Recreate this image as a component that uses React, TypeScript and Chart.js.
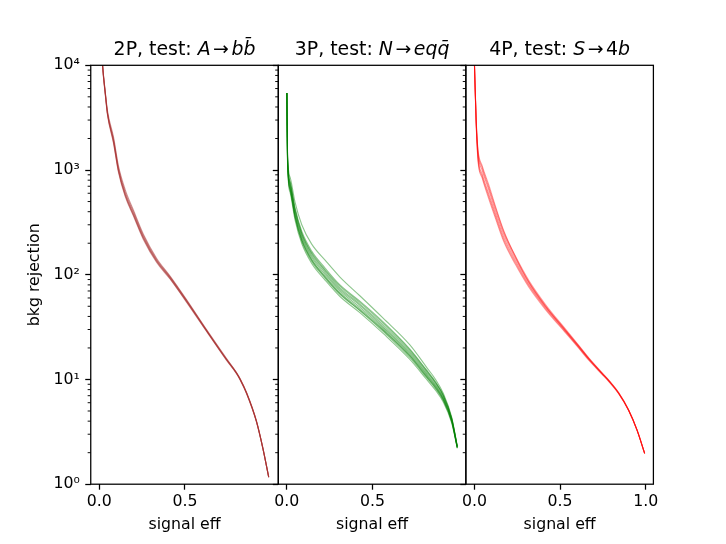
import React, { useEffect, useRef } from 'react';
import Chart from 'chart.js/auto';

// 2P panel: signal efficiency and background rejection of every training run
const effA = [0.012, 0.019, 0.035, 0.048, 0.083, 0.112, 0.151, 0.2, 0.258, 0.335, 0.413, 0.51, 0.616, 0.742, 0.8, 0.823, 0.86, 0.917, 0.955, 0.989];
const rejA = [
    [16000, 10000, 5370, 3460, 1900, 1000, 590, 380, 227, 136, 94, 56, 31, 15.6, 11.6, 10.0, 7.4, 4.0, 2.2, 1.17],
    [16000, 10200, 5550, 3650, 2060, 1090, 650, 410, 242, 143, 97, 57.5, 31.6, 15.9, 11.7, 10.1, 7.5, 4.05, 2.22, 1.18],
    [16000, 9800, 5200, 3320, 1800, 950, 560, 362, 216, 131, 91, 54.5, 30.4, 15.3, 11.4, 9.85, 7.3, 3.95, 2.18, 1.16],
    [16000, 10100, 5450, 3500, 1960, 1040, 615, 395, 234, 139, 95.5, 56.8, 31.3, 15.7, 11.65, 10.05, 7.45, 4.02, 2.21, 1.17],
    [16000, 9900, 5300, 3400, 1850, 975, 575, 370, 222, 134, 92.5, 55.2, 30.7, 15.45, 11.5, 9.9, 7.35, 3.98, 2.19, 1.165],
];

// 3P panel
const effB = [0, 0.004, 0.02, 0.048, 0.087, 0.145, 0.223, 0.31, 0.426, 0.562, 0.717, 0.814, 0.87, 0.913, 0.962, 0.995];
const rejB = [
    [5450, 1230, 680, 380, 227, 146, 101, 70, 49, 31, 17.5, 11.2, 8.6, 6.6, 4.1, 2.26],
    [5450, 1160, 630, 350, 208, 134, 93, 65, 45.5, 28.8, 16.3, 10.5, 8.1, 6.3, 3.95, 2.22],
    [5450, 1110, 600, 332, 198, 128, 89, 62, 43.5, 27.5, 15.6, 10.1, 7.8, 6.1, 3.85, 2.2],
    [5450, 1290, 725, 410, 245, 158, 109, 75, 52.5, 33.2, 18.6, 11.9, 9.1, 6.95, 4.22, 2.28],
    [5450, 1340, 770, 435, 260, 168, 116, 80, 56, 35.5, 19.6, 12.4, 9.4, 7.15, 4.3, 2.3],
    [5450, 1400, 840, 490, 300, 196, 138, 95, 63, 38.5, 21.5, 13.2, 9.9, 7.4, 4.4, 2.32],
    [5450, 1200, 655, 365, 217, 140, 97, 67.5, 47.2, 30, 17, 10.9, 8.4, 6.5, 4.05, 2.24],
    [5450, 1260, 700, 395, 236, 152, 105, 72.5, 51, 32, 18, 11.5, 8.8, 6.75, 4.15, 2.27],
    [5450, 1180, 645, 358, 214, 138, 95, 66, 46, 29.5, 16.8, 10.7, 8.25, 6.4, 4.0, 2.23],
    [5450, 1320, 750, 420, 250, 162, 112, 78, 54.5, 34.5, 19.2, 12.2, 9.25, 7.05, 4.25, 2.29],
];

// 4P panel
const effC = [0, 0.01, 0.021, 0.045, 0.084, 0.123, 0.172, 0.24, 0.318, 0.415, 0.532, 0.609, 0.669, 0.745, 0.787, 0.842, 0.9, 0.949, 0.994];
const rejC = [
    [10500, 2960, 1330, 920, 590, 382, 227, 136, 81, 49, 29, 20.5, 15.6, 11.4, 9.6, 7.4, 5.1, 3.3, 1.97],
    [10500, 3150, 1500, 1060, 680, 435, 255, 150, 88, 52, 30.2, 21.2, 16.0, 11.6, 9.75, 7.5, 5.15, 3.32, 1.98],
    [10500, 2800, 1220, 840, 530, 345, 206, 125, 76, 46.5, 27.9, 19.9, 15.2, 11.2, 9.45, 7.3, 5.05, 3.28, 1.96],
    [10500, 3080, 1430, 1000, 645, 410, 242, 143, 84.5, 50.5, 29.6, 20.9, 15.8, 11.5, 9.68, 7.45, 5.12, 3.31, 1.97],
    [10500, 2880, 1270, 875, 558, 362, 215, 130, 78.5, 47.8, 28.5, 20.2, 15.4, 11.3, 9.52, 7.35, 5.08, 3.29, 1.965],
    [10500, 3000, 1560, 1100, 720, 450, 262, 148, 85, 50, 29.3, 20.7, 15.7, 11.45, 9.64, 7.42, 5.1, 3.3, 1.97],
];

const xTicksInner = [0, 0.5];
const xTicksLast = [0, 0.5, 1.0];
const yTicks = [1, 10, 100, 1000, 10000];
const yTickLabels = ['10⁰', '10¹', '10²', '10³', '10⁴'];
const yMinor: number[] = [];
for (const d of [1, 10, 100, 1000]) for (let k = 2; k <= 9; k++) yMinor.push(k * d);

// title pieces: [text, italic]
const titleA: [string, boolean][] = [['2P, test: ', false], ['A', true], ['→', false], ['bb̄', true]];
const titleB: [string, boolean][] = [['3P, test: ', false], ['N', true], ['→', false], ['eqq̄', true]];
const titleC: [string, boolean][] = [['4P, test: ', false], ['S', true], ['→', false], ['4', false], ['b', true]];

const FONT = '"DejaVu Sans"';
Chart.defaults.font.family = FONT;
Chart.defaults.color = '#000';

interface PanelProps {
    eff: number[];
    runs: number[][];
    color: string;
    title: [string, boolean][];
    xTicks: number[];
    showY: boolean;
    left: number;
    width: number;
    axisW: number;
    padRight: number;
}

const Panel: React.FC<PanelProps> = (p) => {
    const ref = useRef<HTMLCanvasElement>(null);

    useEffect(() => {
        if (!ref.current) return;

        const frame = {
            id: 'frame',
            afterDraw(chart: any) {
                const { ctx, chartArea: a, scales } = chart;
                ctx.save();
                ctx.strokeStyle = '#000';
                ctx.lineWidth = 1.26;
                ctx.strokeRect(a.left, a.top, a.right - a.left, a.bottom - a.top);
                ctx.lineWidth = 0.95;
                ctx.beginPath();
                for (const v of yMinor) {
                    const y = scales.y.getPixelForValue(v);
                    ctx.moveTo(a.left - 3.1, y);
                    ctx.lineTo(a.left, y);
                }
                ctx.stroke();

                // title with italic math parts
                const size = 18.9;
                const gap = 2.5;
                ctx.fillStyle = '#000';
                ctx.textBaseline = 'alphabetic';
                ctx.textAlign = 'left';
                const fontOf = (it: boolean) => `${it ? 'italic ' : ''}${size}px ${FONT}`;
                let total = 0;
                for (const [t, it] of p.title) {
                    ctx.font = fontOf(it);
                    total += ctx.measureText(t).width + (t === '→' ? 2 * gap : 0);
                }
                let x = (a.left + a.right) / 2 - total / 2;
                for (const [t, it] of p.title) {
                    ctx.font = fontOf(it);
                    if (t === '→') x += gap;
                    ctx.fillText(t, x, 55.2);
                    x += ctx.measureText(t).width + (t === '→' ? gap : 0);
                }
                ctx.restore();
            },
        };

        const tickGrid = {
            drawOnChartArea: false,
            drawTicks: true,
            tickLength: 5.5,
            tickWidth: 1.26,
            tickColor: '#000',
        };

        const chartInstance = new Chart(ref.current, {
            type: 'line',
            data: {
                datasets: p.runs.map((run) => ({
                    data: run.map((v, i) => ({ x: p.eff[i], y: v })),
                    borderColor: p.color,
                    borderWidth: 1.1,
                    pointRadius: 0,
                    fill: false,
                    cubicInterpolationMode: 'monotone' as const,
                })),
            },
            options: {
                animation: false,
                responsive: false,
                events: [],
                layout: { padding: { left: 0, right: p.padRight, top: 65.3, bottom: 0 } },
                plugins: {
                    legend: { display: false },
                    tooltip: { enabled: false },
                    title: { display: false },
                },
                scales: {
                    x: {
                        type: 'linear',
                        min: -0.05,
                        max: 1.045,
                        afterBuildTicks: (s: any) => {
                            s.ticks = p.xTicks.map((v) => ({ value: v }));
                        },
                        afterFit: (s: any) => {
                            s.height = 59.8;
                        },
                        grid: tickGrid,
                        border: { display: false },
                        ticks: {
                            color: '#000',
                            font: { size: 15.75 },
                            padding: 2.5,
                            maxRotation: 0,
                            autoSkip: false,
                            callback: (v: any) => Number(v).toFixed(1),
                        },
                        title: {
                            display: true,
                            text: 'signal eff',
                            color: '#000',
                            font: { size: 15.75 },
                            padding: { top: 0, bottom: 9.25 },
                        },
                    },
                    y: {
                        type: 'logarithmic',
                        min: 1,
                        max: 10000,
                        afterBuildTicks: (s: any) => {
                            s.ticks = yTicks.map((v) => ({ value: v }));
                        },
                        afterFit: (s: any) => {
                            s.width = p.axisW;
                        },
                        grid: tickGrid,
                        border: { display: false },
                        ticks: {
                            display: p.showY,
                            color: '#000',
                            font: { size: 15.75 },
                            padding: 5.5,
                            autoSkip: false,
                            callback: (v: any) => yTickLabels[yTicks.indexOf(Number(v))],
                        },
                        title: {
                            display: p.showY,
                            text: 'bkg rejection',
                            color: '#000',
                            font: { size: 15.75 },
                            padding: { top: 25.5, bottom: 0 },
                        },
                    },
                },
            },
            plugins: [frame],
        });

        return () => {
            chartInstance.destroy();
        };
    }, [p]);

    return (
        <canvas
            ref={ref}
            width={p.width}
            height={544}
            style={{ position: 'absolute', left: p.left, top: 0 }}
        />
    );
};

const App: React.FC = () => (
    <div style={{ position: 'absolute', left: 0, top: 0, width: 726, height: 544, background: '#fff' }}>
        <Panel eff={effA} runs={rejA} color="rgba(165, 42, 42, 0.5)" title={titleA}
            xTicks={xTicksInner} showY={true} left={0} width={282} axisW={90.75} padRight={3.7} />
        <Panel eff={effB} runs={rejB} color="rgba(0, 128, 0, 0.45)" title={titleB}
            xTicks={xTicksInner} showY={false} left={268} width={202} axisW={10.3} padRight={4.15} />
        <Panel eff={effC} runs={rejC} color="rgba(255, 0, 0, 0.4)" title={titleC}
            xTicks={xTicksLast} showY={false} left={456} width={270} axisW={9.85} padRight={72.6} />
    </div>
);

export default App;
